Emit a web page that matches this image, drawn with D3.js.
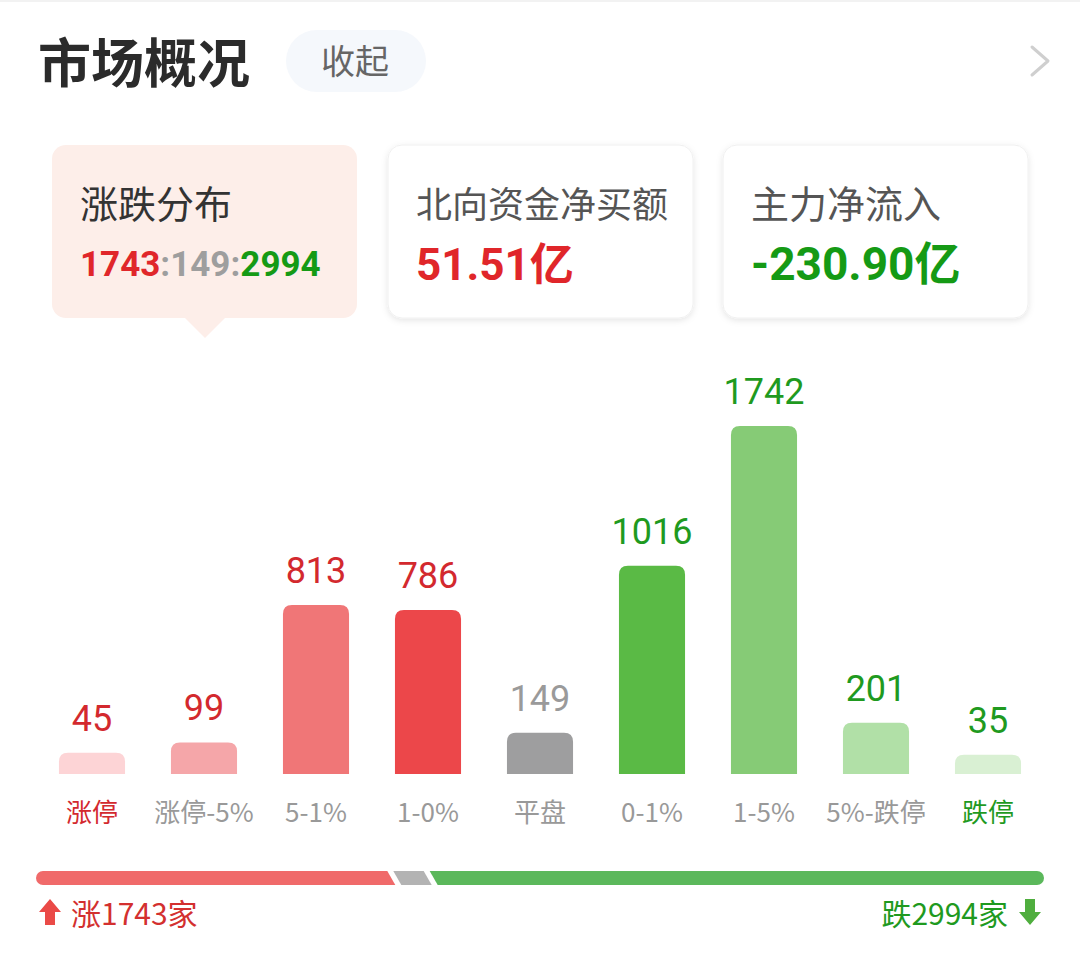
<!DOCTYPE html>
<html><head><meta charset="utf-8">
<script src="https://cdn.jsdelivr.net/npm/d3@7/dist/d3.min.js"></script>
<style>
html,body{margin:0;padding:0;background:#fff;}
svg{display:block;font-family:"Noto Sans CJK SC","Noto Sans",Roboto,sans-serif;}
</style></head>
<body>
<svg id="chart" width="1080" height="960"></svg>
<script>
// ---- data ----
const categories = ["涨停","涨停-5%","5-1%","1-0%","平盘","0-1%","1-5%","5%-跌停","跌停"];
const counts = [45, 99, 813, 786, 149, 1016, 1742, 201, 35];
const barColors = ["#fdd4d6","#f5a6a9","#f07677","#ec474a","#9e9e9f","#5aba45","#86cb76","#b1e0a7","#d9f0d3"];
const valueColors = ["#d3292e","#d3292e","#d3292e","#d3292e","#9a9a9a","#1f9a1f","#1f9a1f","#1f9a1f","#1f9a1f"];
const labelColors = ["#d3292e","#999","#999","#999","#999","#999","#999","#999","#1f9a1f"];
const upCount = 1743, flatCount = 149, downCount = 2994;
const northFlow = "51.51亿", mainFlow = "-230.90亿";
const cardTitles = ["涨跌分布","北向资金净买额","主力净流入"];

const RED = "#e0262a", GREEN = "#159a15", GRAY = "#9e9e9e";
const svg = d3.select("#chart");
const defs = svg.append("defs");
const f = defs.append("filter").attr("id","sh").attr("x","-10%").attr("y","-10%").attr("width","120%").attr("height","130%");
f.append("feDropShadow").attr("dx",0).attr("dy",2).attr("stdDeviation",3).attr("flood-color","#000").attr("flood-opacity",0.10);

// top faint line
svg.append("rect").attr("x",0).attr("y",0).attr("width",1080).attr("height",2).attr("fill","#f2f2f2");

// header
svg.append("text").attr("x",38).attr("y",83).attr("font-size",53).attr("font-weight",700).attr("fill","#2b2b2b").text("市场概况");
svg.append("rect").attr("x",286).attr("y",30).attr("width",140).attr("height",62).attr("rx",31).attr("fill","#f5f8fc");
svg.append("text").attr("x",355).attr("y",74).attr("text-anchor","middle").attr("font-size",34).attr("fill","#666").text("收起");
svg.append("path").attr("d","M1032,47 L1048,61 L1032,75").attr("fill","none").attr("stroke","#cfcfcf").attr("stroke-width",3).attr("stroke-linecap","round").attr("stroke-linejoin","round");

// cards
const cardX = [52, 388, 723], cardW = 305, cardY = 145, cardH = 173;
const titleSizes = [38, 36, 38];
svg.append("rect").attr("x",cardX[0]).attr("y",cardY).attr("width",cardW).attr("height",cardH).attr("rx",14).attr("fill","#fdeee9");
svg.append("path").attr("d",`M${185},${cardY+cardH} L${205},${cardY+cardH+20} L${225},${cardY+cardH} Z`).attr("fill","#fdeee9");
[1,2].forEach(i=>{
  svg.append("rect").attr("x",cardX[i]).attr("y",cardY).attr("width",cardW).attr("height",cardH).attr("rx",14).attr("fill","#fff").attr("stroke","#f0f0f0").attr("filter","url(#sh)");
});
cardTitles.forEach((t,i)=>{
  svg.append("text").attr("x",cardX[i]+28).attr("y",218).attr("font-size",titleSizes[i]).attr("fill", i===0?"#333":"#555").text(t);
});
const ratio = svg.append("text").attr("x",80).attr("y",276).attr("font-size",35).attr("font-weight",700).attr("font-family","Roboto,'Noto Sans',sans-serif");
ratio.append("tspan").attr("fill",RED).text(upCount);
ratio.append("tspan").attr("fill",GRAY).text(":"+flatCount+":");
ratio.append("tspan").attr("fill",GREEN).text(downCount);
svg.append("text").attr("x",416).attr("y",280).attr("font-size",44).attr("font-weight",700).attr("fill",RED).attr("font-family","Roboto,'Noto Sans CJK SC',sans-serif").text(northFlow);
svg.append("text").attr("x",751).attr("y",280).attr("font-size",46).attr("font-weight",700).attr("fill",GREEN).attr("font-family","Roboto,'Noto Sans CJK SC',sans-serif").text(mainFlow);

// bar chart
const baseY = 774;
const x = d3.scaleBand().domain(categories).range([36, 1044]).paddingInner(0.41).paddingOuter(0.205);
const h = d3.scaleLinear().domain([0, d3.max(counts)]).range([12.5, 348]);
const data = categories.map((c,i)=>({c, v:counts[i], i}));
function topRounded(x0, y0, w, ht, r){
  r = Math.min(r, ht, w/2);
  return `M${x0},${y0+ht} L${x0},${y0+r} Q${x0},${y0} ${x0+r},${y0} L${x0+w-r},${y0} Q${x0+w},${y0} ${x0+w},${y0+r} L${x0+w},${y0+ht} Z`;
}
svg.append("g").selectAll("path").data(data).join("path")
  .attr("d", d=>topRounded(x(d.c), baseY - h(d.v), x.bandwidth(), h(d.v), 9))
  .attr("fill", d=>barColors[d.i]);
svg.append("g").selectAll("text").data(data).join("text")
  .attr("x", d=>x(d.c)+x.bandwidth()/2).attr("y", d=>baseY - h(d.v) - 22)
  .attr("text-anchor","middle").attr("font-size",36).attr("font-family","Roboto,'Noto Sans',sans-serif")
  .attr("fill", d=>valueColors[d.i]).text(d=>d.v);
svg.append("g").selectAll("text").data(data).join("text")
  .attr("x", d=>x(d.c)+x.bandwidth()/2).attr("y", 822)
  .attr("text-anchor","middle").attr("font-size",26)
  .attr("fill", d=>labelColors[d.i]).text(d=>d.c);

// bottom proportion bar
const bx0 = 36, bx1 = 1044, by = 871, bh = 14, gap = 6, slant = 8;
const tot = upCount + flatCount + downCount;
const avail = (bx1 - bx0) - 2*gap;
const wScale = d3.scaleLinear().domain([0, tot]).range([0, avail]);
const segs = [
  {v:upCount, col:"#f06a6a"},
  {v:flatCount, col:"#b3b3b3"},
  {v:downCount, col:"#5bb85b"}
];
let cx = bx0;
segs.forEach((s,i)=>{ s.x0 = cx; s.x1 = cx + wScale(s.v); cx = s.x1 + gap; });
const r = bh/2;
const gB = svg.append("g");
gB.append("path").attr("fill",segs[0].col)
  .attr("d",`M${segs[0].x0+r},${by} L${segs[0].x1 - slant/2},${by} L${segs[0].x1 + slant/2},${by+bh} L${segs[0].x0+r},${by+bh} A${r},${r} 0 0 1 ${segs[0].x0+r},${by} Z`);
gB.append("path").attr("fill",segs[1].col)
  .attr("d",`M${segs[1].x0 - slant/2},${by} L${segs[1].x1 - slant/2},${by} L${segs[1].x1 + slant/2},${by+bh} L${segs[1].x0 + slant/2},${by+bh} Z`);
gB.append("path").attr("fill",segs[2].col)
  .attr("d",`M${segs[2].x0 - slant/2},${by} L${segs[2].x1 - r},${by} A${r},${r} 0 0 1 ${segs[2].x1 - r},${by+bh} L${segs[2].x0 + slant/2},${by+bh} Z`);

// bottom labels with arrows
svg.append("path").attr("fill","#ea4a47")
  .attr("d","M50,899 L39,912 L45,912 L45,925 L55,925 L55,912 L61,912 Z");
svg.append("text").attr("x",71).attr("y",925).attr("font-size",30).attr("fill","#d3302f").text("涨"+upCount+"家");
svg.append("path").attr("fill","#4fae3e")
  .attr("d","M1030,925 L1019,912 L1025,912 L1025,899 L1035,899 L1035,912 L1041,912 Z");
svg.append("text").attr("x",1008).attr("y",925).attr("text-anchor","end").attr("font-size",30).attr("fill","#1f9a1f").text("跌"+downCount+"家");
</script>
</body></html>
